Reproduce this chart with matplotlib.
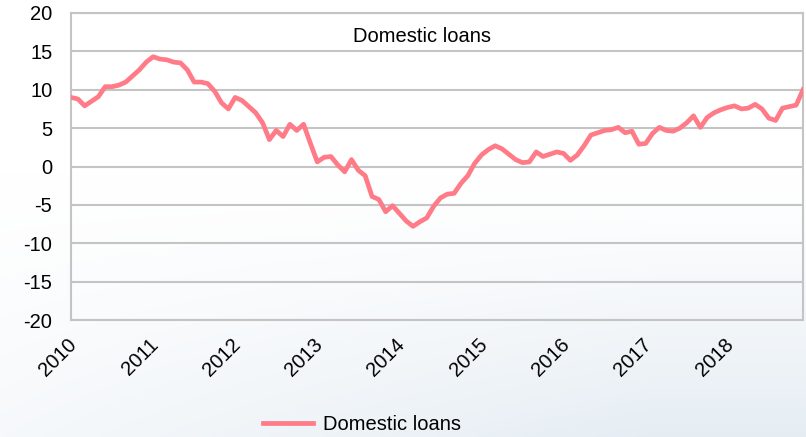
import numpy as np
import matplotlib
matplotlib.use("Agg")
import matplotlib.pyplot as plt
import matplotlib.transforms as mtransforms

plt.rcParams["font.family"] = ["Liberation Sans", "DejaVu Sans"]
plt.rcParams["axes.unicode_minus"] = False

# monthly growth of domestic loans, Jan 2010 .. Dec 2018 (%)
loans = [
    9.0, 8.8, 7.9, 8.5, 9.1, 10.4, 10.4, 10.6, 11.0, 11.8, 12.6, 13.6,   # 2010
    14.3, 14.0, 13.9, 13.6, 13.5, 12.6, 11.0, 11.0, 10.8, 9.8, 8.3, 7.5,  # 2011
    9.0, 8.6, 7.8, 7.0, 5.7, 3.5, 4.7, 3.9, 5.5, 4.7, 5.5, 3.0,          # 2012
    0.6, 1.2, 1.3, 0.2, -0.7, 0.9, -0.5, -1.2, -3.9, -4.3, -5.9, -5.1,   # 2013
    -6.1, -7.1, -7.8, -7.2, -6.7, -5.2, -4.1, -3.6, -3.5, -2.2, -1.2, 0.4,  # 2014
    1.5, 2.2, 2.7, 2.3, 1.6, 0.9, 0.5, 0.6, 1.9, 1.3, 1.6, 1.9,          # 2015
    1.7, 0.8, 1.5, 2.7, 4.1, 4.4, 4.7, 4.8, 5.1, 4.4, 4.6, 2.9,          # 2016
    3.0, 4.3, 5.1, 4.7, 4.6, 5.0, 5.7, 6.6, 5.1, 6.4, 7.0, 7.4,          # 2017
    7.7, 7.9, 7.5, 7.6, 8.1, 7.5, 6.3, 6.0, 7.6, 7.8, 8.0, 10.0,         # 2018
]
years = [2010, 2011, 2012, 2013, 2014, 2015, 2016, 2017, 2018]
series_name = "Domestic loans"

months = np.arange(len(loans))

fig = plt.figure(figsize=(8.06, 4.37), dpi=100)
fig.patch.set_facecolor("white")

# faint bluish haze towards the bottom of the slide background
bg = fig.add_axes([0, 0, 1, 1], zorder=-10)
yy, xx = np.mgrid[0:1:200j, 0:1:400j]
haze = np.clip((yy - 0.4) / 0.6, 0, 1) ** 1.2 * np.clip(0.35 + 0.8 * xx, 0, 1)
rgb = np.ones((200, 400, 3))
tint = np.array([0.90, 0.93, 0.955])
rgb = rgb * (1 - haze[..., None]) + tint * haze[..., None]
bg.imshow(rgb, extent=[0, 1, 0, 1], aspect="auto", origin="upper")
bg.axis("off")

ax = fig.add_axes([71 / 806, 1 - 320 / 437, (803 - 71) / 806, (320 - 13) / 437])
ax.set_facecolor("none")

line, = ax.plot(months, loans, color="#FF7B87", lw=3.4, solid_joinstyle="round",
                label=series_name, zorder=3)

ax.set_xlim(0, len(loans) - 1)
ax.set_ylim(-20, 20)
ax.set_yticks(np.arange(-20, 21, 5))
ax.set_xticks([(y - years[0]) * 12 for y in years])
ax.set_xticklabels([str(y) for y in years], rotation=45, ha="right", va="top",
                   rotation_mode="anchor")

ax.grid(axis="y", color="#C4C4C4", lw=1.5, zorder=0)
for s in ax.spines.values():
    s.set_color("#C4C4C4")
    s.set_linewidth(1.5)
ax.tick_params(length=0, labelsize=14.5, colors="black")
ax.tick_params(axis="x", pad=11)
ax.tick_params(axis="y", pad=13.5)

# nudge the slanted year labels a little to the left
shift = mtransforms.ScaledTranslation(-4 / 100, 0, fig.dpi_scale_trans)
for lbl in ax.get_xticklabels():
    lbl.set_transform(lbl.get_transform() + shift)

ax.text(0.48, 0.925, series_name, transform=ax.transAxes, ha="center", va="center",
        fontsize=14.5)

fig.legend(handles=[line], loc="center", bbox_to_anchor=(362 / 806, 1 - 425 / 437),
           frameon=False, fontsize=14.5, handlelength=2.5, handletextpad=0.5)

fig.savefig("out.png", dpi=100)
